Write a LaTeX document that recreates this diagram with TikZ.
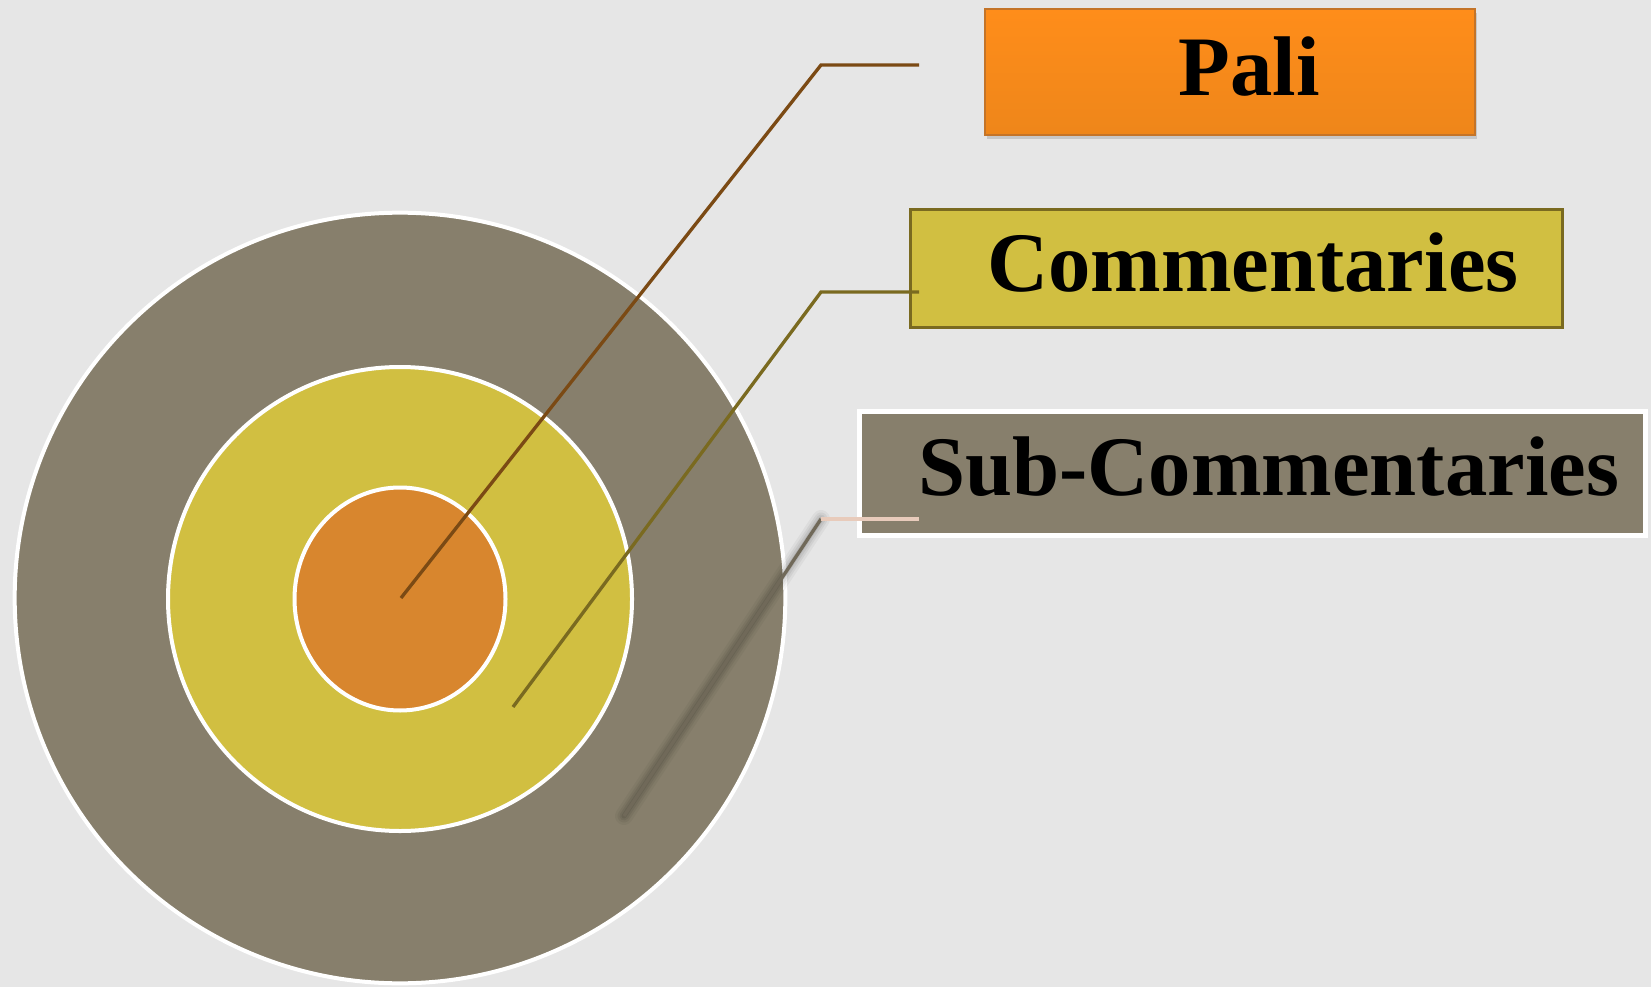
\documentclass[tikz,border=0pt]{standalone}
\usepackage{fontspec}
\setmainfont{Liberation Serif}
\usetikzlibrary{shadows}

\definecolor{bgGrey}{RGB}{230,230,230}
\definecolor{ringGrey}{RGB}{135,127,108}
\definecolor{ringYellow}{RGB}{209,191,65}
\definecolor{ringOrange}{RGB}{216,134,46}
\definecolor{paliTop}{RGB}{255,141,26}
\definecolor{paliBot}{RGB}{238,134,26}
\definecolor{paliEdge}{RGB}{196,116,40}
\definecolor{oliveEdge}{RGB}{122,106,32}
\definecolor{brownLine}{RGB}{123,74,20}
\definecolor{peachLine}{RGB}{232,203,187}
\definecolor{greyLine}{RGB}{112,105,89}

\tikzset{
  ring/.style={draw=white, line width=3pt, inner sep=0pt},
  labelbox/.style={rectangle, anchor=north west, inner sep=0pt},
  labeltext/.style={font=\fontsize{63.5}{70}\selectfont\bfseries, inner sep=0pt},
  leader/.style={line width=2.5pt},
}

\begin{document}
\begin{tikzpicture}[x=0.75pt,y=0.75pt,yscale=-1,xscale=1]
            \useasboundingbox (0,0) rectangle (1651,987); % 1651 x 987 px
            \fill[bgGrey] (0,0) rectangle (1651,987); % Background

            % Rings
            \node[ring, circle, fill=ringGrey, minimum size=578pt] (outer) at (400,598) {};
            \node[ring, circle, fill=ringYellow, minimum size=348pt] (middle) at (400,599) {};
            \draw[ring, fill=ringOrange] (400,599) ellipse [x radius=105.5, y radius=111.5]; % Inner core
            \coordinate (inner) at (400,599);

            % Boxes
            \node[labelbox, top color=paliTop, bottom color=paliBot, draw=paliEdge, line width=1.5pt,
                  minimum width=368pt, minimum height=94.5pt,
                  drop shadow={shadow xshift=1.5pt, shadow yshift=-2.5pt, opacity=0.3}] (pali box) at (983.5,8.5) {};
            \node[labelbox, fill=ringYellow, draw=oliveEdge, line width=2.25pt,
                  minimum width=489pt, minimum height=88.5pt] (comm box) at (908.5,208.5) {};
            \node[labelbox, fill=ringGrey, draw=white, line width=3.75pt,
                  minimum width=589.5pt, minimum height=93pt] (sub box) at (856.5,408.5) {};

            % Texts
            \node[labeltext, anchor=base] (pali) at (1249,96) {Pali};
            \node[labeltext, anchor=base west] (comm) at (987,292) {Commentaries};
            \node[labeltext, anchor=base west] (sub) at (918,495) {Sub-Commentaries};

            % Leader Pali
            \coordinate (pali foot) at (401,598);
            \coordinate (pali knee) at (821,65);
            \coordinate (pali end) at (919,65);
            \draw[leader, brownLine] (pali foot) -- (pali knee) -- (pali end);

            % Leader Commentaries
            \coordinate (comm foot) at (513,707);
            \coordinate (comm knee) at (821,292);
            \coordinate (comm end) at (919,292);
            \draw[leader, oliveEdge] (comm foot) -- (comm knee) -- (comm end);

            % Leader Sub-Commentaries
            \coordinate (sub foot) at (624,816);
            \coordinate (sub knee) at (821,519);
            \coordinate (sub end) at (919,519);
            \foreach \w/\o in {18/0.04, 13/0.05, 9/0.06, 5/0.08}
              \draw[line width=\w*0.75pt, black, opacity=\o, line cap=round, shift={(3,2)}] (sub foot) -- (sub knee); % blurred shadow
            \draw[leader, greyLine] (sub foot) -- (sub knee);
            \draw[leader, peachLine] (sub knee) -- (sub end);
        \end{tikzpicture}
\end{document}
